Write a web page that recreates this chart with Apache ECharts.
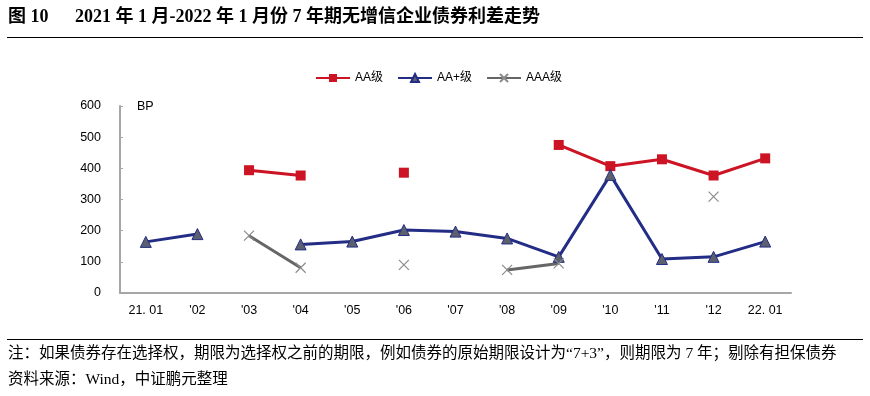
<!DOCTYPE html>
<html><head><meta charset="utf-8">
<script src="https://cdn.jsdelivr.net/npm/echarts@6/dist/echarts.min.js"></script>
<style>html,body{margin:0;padding:0;background:#fff}#c{width:870px;height:396px}</style>
</head><body><div id="c"></div>
<script>
const categories = ["21. 01","'02","'03","'04","'05","'06","'07","'08","'09","'10","'11","'12","22. 01"];
const aaValues   = [null,null,394,377,null,386,null,null,475,407,429,377,432];
const aapValues  = [164,189,null,156,165,202,197,175,116,379,109,116,165];
const aaaValues  = [null,null,184,81,null,90,null,74,95,null,null,309,null];
const yTicks = [0,100,200,300,400,500,600];

const chart = echarts.init(document.getElementById('c'), null, {renderer:'canvas'});
const serifCn = '"Liberation Serif","Times New Roman","Noto Sans CJK SC",serif';
const labelFont = '"Liberation Sans",Arial,sans-serif';
chart.setOption({
  animation:false,
  backgroundColor:'#fff',
  grid:{left:120,right:79,top:106,bottom:103},
  legend:{
    top:67,left:310,itemGap:14,itemWidth:34,itemHeight:10,
    textStyle:{fontFamily:'"Liberation Sans","Noto Sans CJK SC",sans-serif',fontSize:12,color:'#000'},
    data:['AA级','AA+级','AAA级']
  },
  xAxis:{
    type:'category',data:categories,boundaryGap:true,
    axisLine:{lineStyle:{color:'#a6a6a6',width:2}},
    axisTick:{inside:true,length:4,alignWithLabel:false,lineStyle:{color:'#a6a6a6'}},
    axisLabel:{color:'#000',fontFamily:labelFont,fontSize:12.5,margin:11,interval:0}
  },
  yAxis:{
    type:'value',min:0,max:600,interval:100,
    axisLine:{show:true,lineStyle:{color:'#a6a6a6',width:2}},
    axisTick:{show:true,inside:true,length:3,lineStyle:{color:'#a6a6a6'}},
    splitLine:{show:false},
    axisLabel:{color:'#000',fontFamily:labelFont,fontSize:12.5,margin:19,
      formatter:v=>yTicks.includes(v)?String(v):''}
  },
  series:[
    {name:'AA级',type:'line',data:aaValues,connectNulls:false,symbol:'rect',symbolSize:10,
      lineStyle:{color:'#cc1424',width:3},itemStyle:{color:'#cc1424'}},
    {name:'AA+级',type:'line',data:aapValues,connectNulls:false,symbol:'triangle',symbolSize:11,
      lineStyle:{color:'#232d85',width:3},itemStyle:{color:'#5c5f6e',borderColor:'#232d85',borderWidth:1}},
    {name:'AAA级',type:'line',data:aaaValues,connectNulls:false,
      symbol:'path://M0,0L10,10M10,0L0,10',symbolSize:10,showAllSymbol:true,
      lineStyle:{color:'#666666',width:3},itemStyle:{color:'transparent',borderColor:'#8c8c8c',borderWidth:1.2}}
  ],
  graphic:[
    {type:'text',left:8,top:8,style:{text:'图 10',
      fontFamily:serifCn,fontWeight:'bold',fontSize:18,fill:'#000'}},
    {type:'text',left:75,top:8,style:{text:'2021 年 1 月-2022 年 1 月份 7 年期无增信企业债券利差走势',
      fontFamily:serifCn,fontWeight:'bold',fontSize:18,fill:'#000'}},
    {type:'rect',shape:{x:7,y:37,width:856,height:1},style:{fill:'#000'}},
    {type:'text',left:137,top:100,style:{text:'BP',fontFamily:labelFont,fontSize:12.5,fill:'#000'}},
    {type:'rect',shape:{x:7,y:339,width:856,height:1},style:{fill:'#000'}},
    {type:'text',left:8,top:346,style:{text:'注：如果债券存在选择权，期限为选择权之前的期限，例如债券的原始期限设计为“7+3”，则期限为 7 年；剔除有担保债券',
      fontFamily:serifCn,fontSize:15.5,fill:'#000'}},
    {type:'text',left:8,top:372,style:{text:'资料来源：Wind，中证鹏元整理',fontFamily:serifCn,fontSize:15.5,fill:'#000'}}
  ]
});
</script></body></html>
